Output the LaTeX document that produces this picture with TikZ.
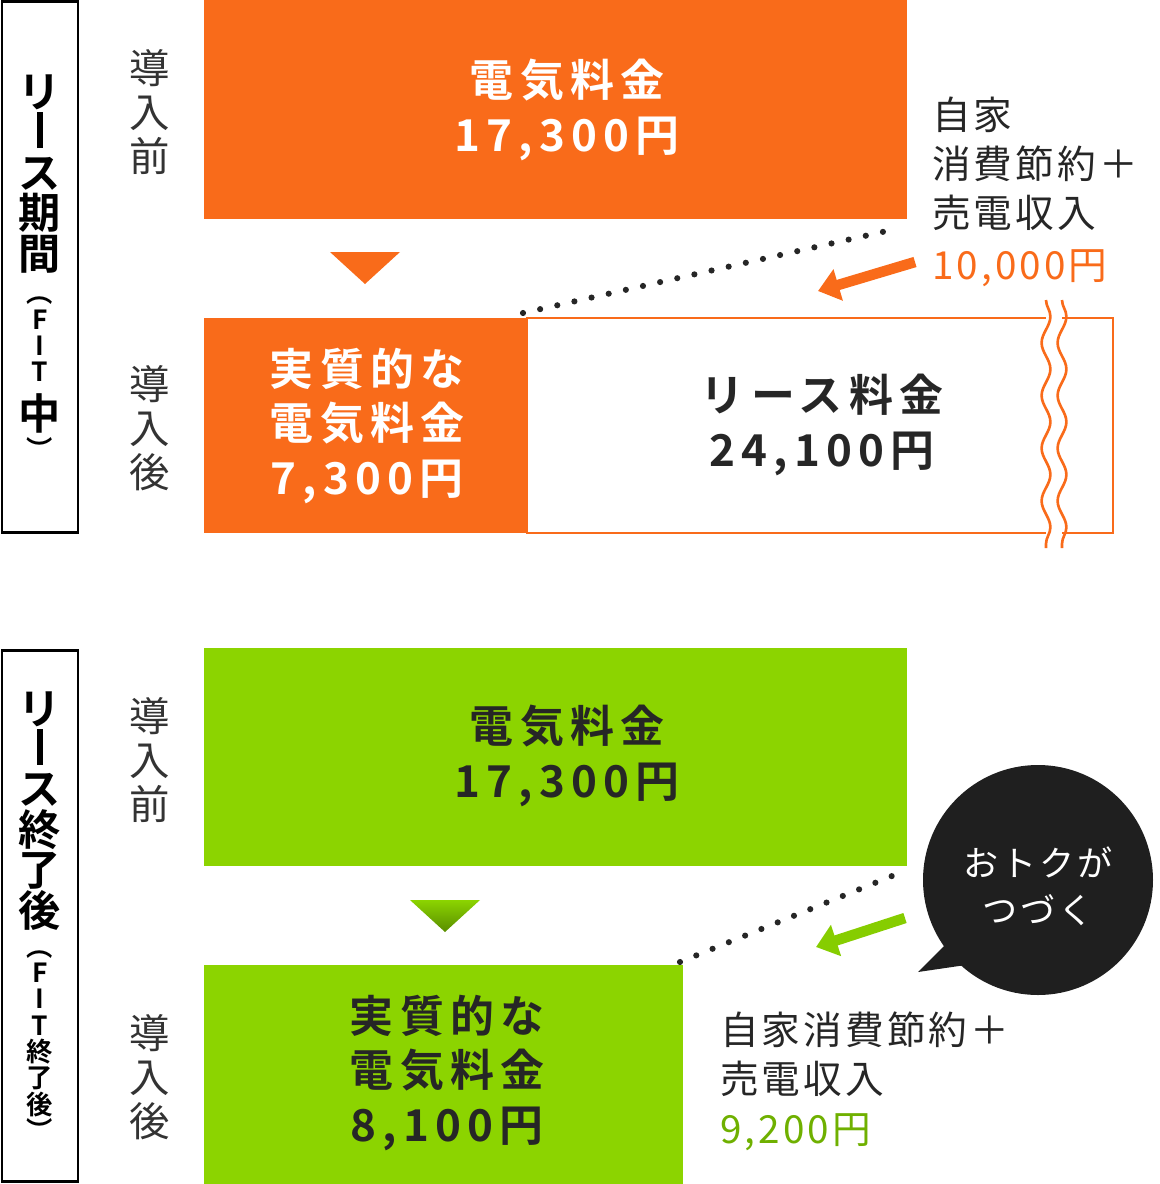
\documentclass[tikz,border=0pt]{standalone}
\usepackage{fontspec}
\setmainfont{Noto Sans CJK JP}[BoldFont={* Bold}]
\usetikzlibrary{calc,arrows.meta,positioning,decorations.pathmorphing}
\definecolor{leaseorange}{HTML}{F96B1A}
\definecolor{leasegreen}{HTML}{8CD400}
\definecolor{darkgreen}{HTML}{6FB000}
\newcommand{\sm}[1]{{\fontsize{15}{15}\selectfont #1}}
\newcommand{\vbar}{\rule{3.5pt}{0.85em}}
\begin{document}
\begin{tikzpicture}[x=0.02cm,y=-0.02cm,
    bigtxt/.style={font=\bfseries\fontsize{25}{31}\selectfont\addfontfeature{LetterSpace=14},align=center},
    sidetxt/.style={font=\fontsize{22}{28}\selectfont\addfontfeature{LetterSpace=8},align=left,anchor=west},
    steptxt/.style={font=\fontsize{23}{25}\selectfont,align=center,text=black!80},
    periodbox/.style={draw=black,line width=1.6pt,minimum width=1.52cm,align=center,font=\bfseries\fontsize{24}{23}\selectfont},
    dotline/.style={line width=3.5pt,line cap=round,dash pattern=on 0pt off 10pt,black!85},
    fatarrow/.style={line width=6pt,-{Triangle[length=12pt,width=18pt]}}]
  \useasboundingbox (0,0) rectangle (1160,1184);

  % period labels
  \node[periodbox,minimum height=10.62cm] (fitbox) at (40,267) {リ\\\vbar\\ス\\期\\間\\[-4pt]\sm{︵}\\[-8pt]\sm{F}\\[-8pt]\sm{I}\\[-8pt]\sm{T}\\[4pt]中\\[-6pt]\sm{︶}};
  \node[periodbox,minimum height=10.62cm] (endbox) at (40,916) {リ\\\vbar\\ス\\終\\了\\後\\[-6pt]\sm{︵}\\[-8pt]\sm{F}\\[-8pt]\sm{I}\\[-8pt]\sm{T}\\[-8pt]\sm{終}\\[-8pt]\sm{了}\\[-8pt]\sm{後}\\[-8pt]\sm{︶}};
  \node[steptxt] (pre1) at (150,112) {導\\入\\前};
  \node[steptxt] (post1) at (150,428) {導\\入\\後};
  \node[steptxt] (pre2) at (150,760) {導\\入\\前};
  \node[steptxt] (post2) at (150,1077) {導\\入\\後};

  % FIT period
  \fill[leaseorange] (204,0) rectangle (907,219);
  \node[bigtxt,text=white] (bill1) at (567,110) {電気料金\\17,300円};
  \fill[leaseorange] (330,252) -- (400,252) -- (365,284) -- cycle;
  \draw[leaseorange,line width=1.5pt] (527,318) rectangle (1113,533);
  \fill[leaseorange] (204,318) rectangle (527,533);
  \node[bigtxt,text=white] (real1) at (367,426) {実質的な\\電気料金\\7,300円};
  \node[bigtxt,text=black!85] (lease) at (822,425) {リース料金\\24,100円};
  \fill[white] (1046,310) rectangle (1062,545);
  \foreach \xx in {1046,1062}
    \draw[leaseorange,line width=1.5pt,decorate,decoration={snake,amplitude=2.5pt,segment length=30pt}] (\xx,300) -- (\xx,548);
  \coordinate (dotA) at (523,313);
  \coordinate (dotB) at (900,228);
  \draw[dotline] (dotA) -- (dotB);
  \coordinate (arrA) at (915,262);
  \coordinate (arrB) at (818,291);
  \draw[fatarrow,leaseorange] (arrA) -- (arrB);
  \node[sidetxt,text=black!85] (save1) at (926,164) {自家\\消費節約＋\\売電収入};
  \node[sidetxt,text=leaseorange,anchor=west] (sum1) at (926,268) {10,000円};

  % after lease
  \fill[leasegreen] (204,648) rectangle (907,866);
  \node[bigtxt,text=black!85] (bill2) at (567,756) {電気料金\\17,300円};
  \shade[top color=leasegreen,bottom color=darkgreen!80!black] (410,900) -- (480,900) -- (445,932) -- cycle;
  \fill[leasegreen] (204,965) rectangle (683,1184);
  \node[bigtxt,text=black!85] (real2) at (447,1073) {実質的な\\電気料金\\8,100円};
  \coordinate (dotC) at (680,962);
  \coordinate (dotD) at (892,876);
  \draw[dotline] (dotC) -- (dotD);
  \coordinate (arrC) at (905,918);
  \coordinate (arrD) at (816,947);
  \draw[fatarrow,leasegreen!80!darkgreen] (arrC) -- (arrD);
  \fill[black!88] (1038,880) circle (115);
  \fill[black!88] (960,930) -- (918,972) -- (1000,960) -- cycle;
  \node[font=\fontsize{20}{27}\selectfont\addfontfeature{LetterSpace=8},text=white,align=center] (bubble) at (1038,886) {おトクが\\つづく};
  \node[sidetxt,text=black!85] (save2) at (714,1054) {自家消費節約＋\\売電収入};
  \node[sidetxt,text=darkgreen] (sum2) at (714,1132) {9,200円};
\end{tikzpicture}
\end{document}
